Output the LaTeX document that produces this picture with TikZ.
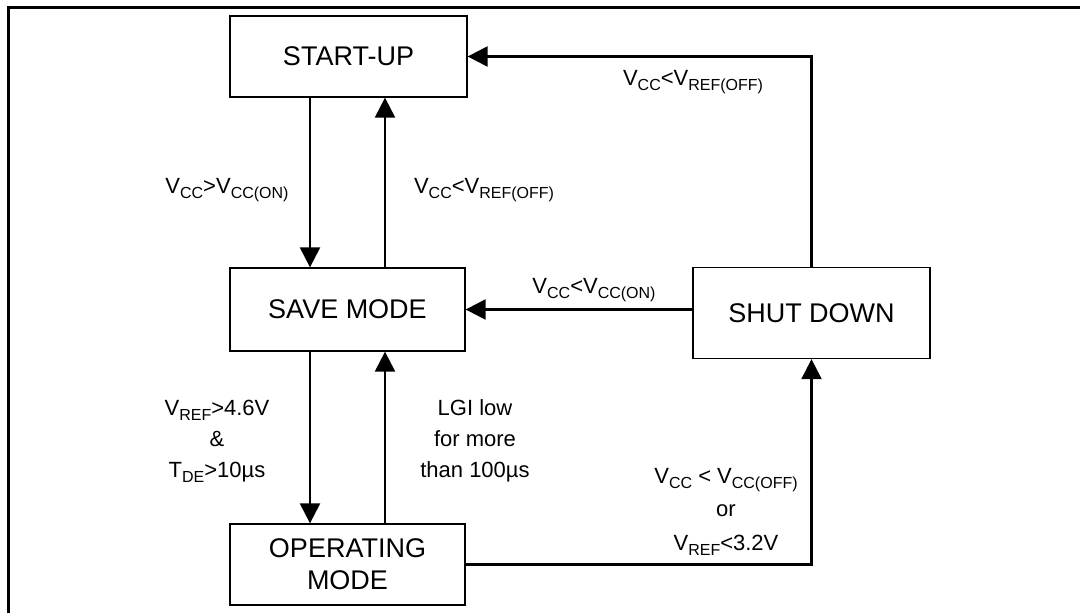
\documentclass[tikz,border=0pt]{standalone}
\usepackage{fontspec}
\setmainfont{Liberation Sans}
\usetikzlibrary{arrows.meta}
\newcommand{\sbs}[1]{\raisebox{-5pt}{\fontsize{16}{16}\selectfont #1}}
\begin{document}
\begin{tikzpicture}[x=1pt,y=-1pt,
  state/.style={draw, line width=1.3pt, inner sep=0pt, align=center,
    font=\fontsize{27}{32}\selectfont},
  lbl/.style={inner sep=0pt, align=center, anchor=base,
    font=\fontsize{22}{31}\selectfont},
  arr/.style={line width=2.3pt, -{Triangle[length=20pt,width=20pt]}},
  frame/.style={line width=3pt}]
\useasboundingbox (0,0) rectangle (1080,613);
\draw[frame] (8,613) -- (8,7) -- (1080,7);

\node[state, minimum width=237pt, minimum height=81pt] (startup) at (348.5,56.5) {START-UP};
\node[state, minimum width=235pt, minimum height=83pt] (save) at (347.5,309.5) {SAVE MODE};
\node[state, minimum width=235pt, minimum height=81pt] (oper) at (347.5,564.5) {OPERATING\\MODE};
\node[state, minimum width=237pt, minimum height=91pt] (shut) at (811.5,313) {SHUT DOWN};

\coordinate (xl) at (310,0);
\coordinate (xr) at (385,0);

\draw[arr] (xl |- startup.south) -- (xl |- save.north);
\draw[arr] (xr |- save.north) -- (xr |- startup.south);
\draw[arr] (xl |- save.south) -- (xl |- oper.north);
\draw[arr] (xr |- oper.north) -- (xr |- save.south);
\draw[arr] (shut.west |- save.east) -- (save.east);
\draw[arr] (shut.north) |- (startup.east);
\draw[arr] (oper.east) -| (shut.south);

\node[lbl] (c1) at (227,193) {V\sbs{CC}>V\sbs{CC(ON)}};
\node[lbl] (c2) at (484,193) {V\sbs{CC}<V\sbs{REF(OFF)}};
\node[lbl] (c3) at (217,477) {V\sbs{REF}>4.6V\\\&\\T\sbs{DE}>10µs};
\node[lbl] (c4) at (475,477) {LGI low\\for more\\than 100µs};
\node[lbl, font=\fontsize{22}{33.5}\selectfont] (c5) at (726,550) {V\sbs{CC} < V\sbs{CC(OFF)}\\or\\V\sbs{REF}<3.2V};
\node[lbl] (c6) at (594,293) {V\sbs{CC}<V\sbs{CC(ON)}};
\node[lbl] (c7) at (693,85) {V\sbs{CC}<V\sbs{REF(OFF)}};
\end{tikzpicture}
\end{document}
